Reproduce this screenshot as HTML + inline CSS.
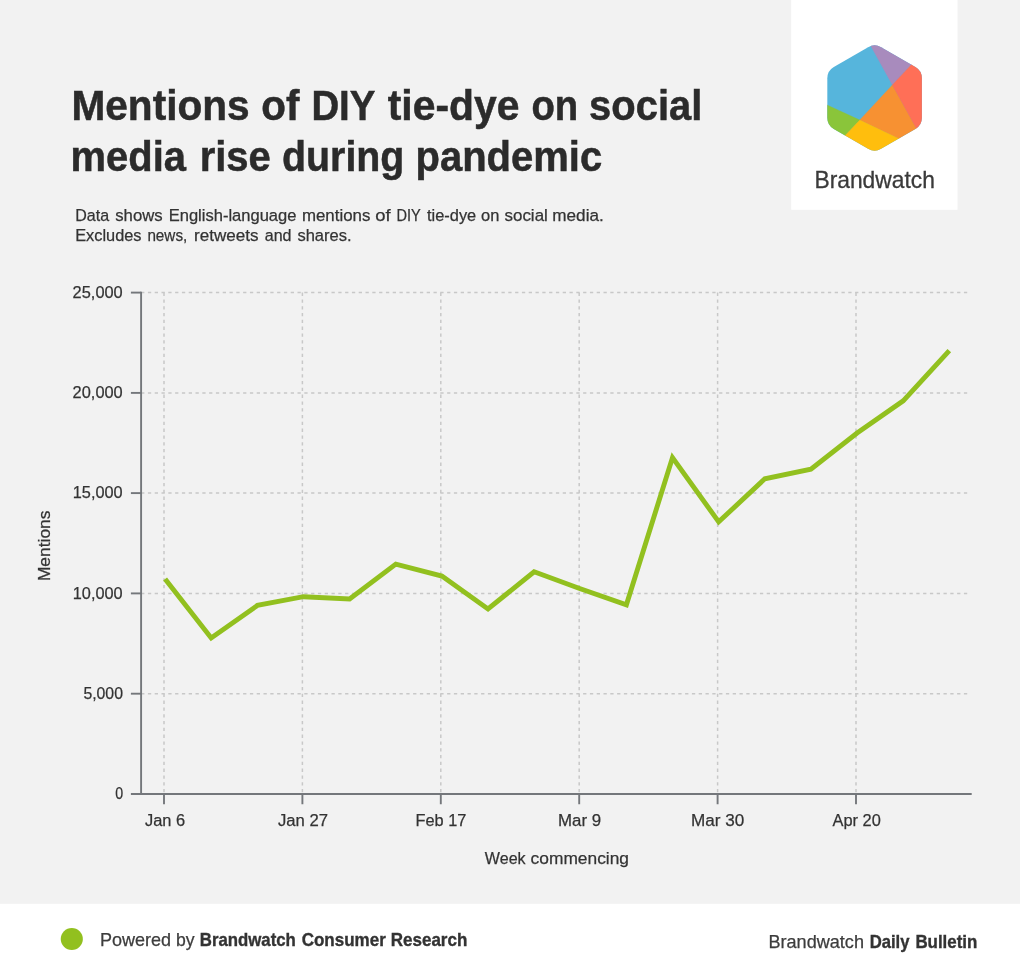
<!DOCTYPE html>
<html lang="en">
<head>
<meta charset="utf-8">
<title>Mentions of DIY tie-dye on social media rise during pandemic</title>
<style>
html,body{margin:0;padding:0;background:#f2f2f2;}
body{width:1020px;height:977px;overflow:hidden;font-family:"Liberation Sans", sans-serif;}
svg{display:block;}
</style>
</head>
<body>
<svg width="1020" height="977" viewBox="0 0 1020 977" font-family='"Liberation Sans", sans-serif'>
<rect width="1020" height="977" fill="#f2f2f2"/>
<rect x="0" y="903.8" width="1020" height="74" fill="#ffffff"/>
<rect x="791.2" y="0" width="166.3" height="209.8" fill="#ffffff"/>
<clipPath id="hex"><path d="M868.10 47.15 Q874.60 43.40 881.10 47.15 L915.39 66.95 Q921.88 70.70 921.88 78.20 L921.88 117.80 Q921.88 125.30 915.39 129.05 L881.10 148.85 Q874.60 152.60 868.10 148.85 L833.81 129.05 Q827.32 125.30 827.32 117.80 L827.32 78.20 Q827.32 70.70 833.81 66.95 Z"/></clipPath>
<g clip-path="url(#hex)">
<rect x="820" y="40" width="110" height="116" fill="#56b5dc"/>
<polygon points="869.40,43.30 874.60,30.00 930.00,30.00 913.90,62.10 892.40,84.90" fill="#a88bbd" stroke="#a88bbd" stroke-width="0.4"/>
<polygon points="892.40,84.90 917.60,130.40 902.20,140.25 859.80,120.10" fill="#f79132" stroke="#f79132" stroke-width="0.4"/>
<polygon points="913.90,62.10 935.00,40.00 935.00,160.00 917.60,130.40 892.40,84.90" fill="#ff6f57" stroke="#ff6f57" stroke-width="0.4"/>
<polygon points="823.40,103.25 859.80,120.10 842.80,137.90 835.00,165.00 815.00,140.00" fill="#8ac53a" stroke="#8ac53a" stroke-width="0.4"/>
<polygon points="859.80,120.10 902.20,140.25 910.00,160.00 874.60,165.00 842.80,137.90" fill="#ffbe0d" stroke="#ffbe0d" stroke-width="0.4"/>
</g>
<g stroke="#c8c8c8" stroke-width="1.5" stroke-dasharray="3.3 3.5" fill="none">
<line x1="141.1" y1="693.7" x2="968.0" y2="693.7"/>
<line x1="141.1" y1="593.4" x2="968.0" y2="593.4"/>
<line x1="141.1" y1="493.1" x2="968.0" y2="493.1"/>
<line x1="141.1" y1="392.9" x2="968.0" y2="392.9"/>
<line x1="141.1" y1="292.6" x2="968.0" y2="292.6"/>
<line x1="164.0" y1="292.6" x2="164.0" y2="793.95"/>
<line x1="302.4" y1="292.6" x2="302.4" y2="793.95"/>
<line x1="440.8" y1="292.6" x2="440.8" y2="793.95"/>
<line x1="579.2" y1="292.6" x2="579.2" y2="793.95"/>
<line x1="717.6" y1="292.6" x2="717.6" y2="793.95"/>
<line x1="856.0" y1="292.6" x2="856.0" y2="793.95"/>
</g>
<g stroke="#74777b" stroke-width="1.9" fill="none">
<line x1="141.1" y1="291.7" x2="141.1" y2="794.90"/>
<line x1="130.9" y1="793.95" x2="971.7" y2="793.95"/>
<line x1="130.9" y1="693.7" x2="141.1" y2="693.7"/>
<line x1="130.9" y1="593.4" x2="141.1" y2="593.4"/>
<line x1="130.9" y1="493.1" x2="141.1" y2="493.1"/>
<line x1="130.9" y1="392.9" x2="141.1" y2="392.9"/>
<line x1="130.9" y1="292.6" x2="141.1" y2="292.6"/>
<line x1="164.0" y1="793.95" x2="164.0" y2="804.25"/>
<line x1="302.4" y1="793.95" x2="302.4" y2="804.25"/>
<line x1="440.8" y1="793.95" x2="440.8" y2="804.25"/>
<line x1="579.2" y1="793.95" x2="579.2" y2="804.25"/>
<line x1="717.6" y1="793.95" x2="717.6" y2="804.25"/>
<line x1="856.0" y1="793.95" x2="856.0" y2="804.25"/>
</g>
<text y="120.4" font-size="41.8" font-weight="bold" fill="#2b2b2b" stroke="#2b2b2b" stroke-width="0.5"><tspan x="71.41" textLength="178.26" lengthAdjust="spacingAndGlyphs">Mentions</tspan> <tspan x="261.25" textLength="38.06" lengthAdjust="spacingAndGlyphs">of</tspan> <tspan x="311.38" textLength="63.36" lengthAdjust="spacingAndGlyphs">DIY</tspan> <tspan x="387.70" textLength="131.75" lengthAdjust="spacingAndGlyphs">tie-dye</tspan> <tspan x="531.46" textLength="46.72" lengthAdjust="spacingAndGlyphs">on</tspan> <tspan x="589.12" textLength="113.23" lengthAdjust="spacingAndGlyphs">social</tspan></text>
<text y="171.3" font-size="41.8" font-weight="bold" fill="#2b2b2b" stroke="#2b2b2b" stroke-width="0.5"><tspan x="70.59" textLength="115.36" lengthAdjust="spacingAndGlyphs">media</tspan> <tspan x="199.67" textLength="71.20" lengthAdjust="spacingAndGlyphs">rise</tspan> <tspan x="282.07" textLength="122.33" lengthAdjust="spacingAndGlyphs">during</tspan> <tspan x="415.52" textLength="186.66" lengthAdjust="spacingAndGlyphs">pandemic</tspan></text>
<text y="220.8" font-size="16.7" fill="#333333" stroke="#333333" stroke-width="0.25"><tspan x="75.22" textLength="33.84" lengthAdjust="spacingAndGlyphs">Data</tspan> <tspan x="115.25" textLength="47.41" lengthAdjust="spacingAndGlyphs">shows</tspan> <tspan x="168.68" textLength="127.77" lengthAdjust="spacingAndGlyphs">English-language</tspan> <tspan x="301.94" textLength="68.37" lengthAdjust="spacingAndGlyphs">mentions</tspan> <tspan x="375.16" textLength="15.36" lengthAdjust="spacingAndGlyphs">of</tspan> <tspan x="396.49" textLength="24.03" lengthAdjust="spacingAndGlyphs">DIY</tspan> <tspan x="427.00" textLength="49.25" lengthAdjust="spacingAndGlyphs">tie-dye</tspan> <tspan x="481.04" textLength="18.31" lengthAdjust="spacingAndGlyphs">on</tspan> <tspan x="504.54" textLength="43.28" lengthAdjust="spacingAndGlyphs">social</tspan> <tspan x="552.27" textLength="51.48" lengthAdjust="spacingAndGlyphs">media.</tspan></text>
<text y="241.3" font-size="16.7" fill="#333333" stroke="#333333" stroke-width="0.25"><tspan x="75.18" textLength="66.33" lengthAdjust="spacingAndGlyphs">Excludes</tspan> <tspan x="147.38" textLength="39.88" lengthAdjust="spacingAndGlyphs">news,</tspan> <tspan x="194.09" textLength="64.42" lengthAdjust="spacingAndGlyphs">retweets</tspan> <tspan x="264.74" textLength="26.76" lengthAdjust="spacingAndGlyphs">and</tspan> <tspan x="297.38" textLength="54.12" lengthAdjust="spacingAndGlyphs">shares.</tspan></text>
<text y="187.6" font-size="23.2" fill="#3a3a3a" stroke="#3a3a3a" stroke-width="0.3"><tspan x="814.48" textLength="120.37" lengthAdjust="spacingAndGlyphs">Brandwatch</tspan></text>
<text y="864.3" font-size="17.3" fill="#333333" stroke="#333333" stroke-width="0.25"><tspan x="484.86" textLength="40.74" lengthAdjust="spacingAndGlyphs">Week</tspan> <tspan x="530.63" textLength="98.34" lengthAdjust="spacingAndGlyphs">commencing</tspan></text>
<text y="946" font-size="17.7" fill="#3d3d3d" stroke="#3d3d3d" stroke-width="0.25"><tspan x="100.00" textLength="71.11" lengthAdjust="spacingAndGlyphs">Powered</tspan> <tspan x="176.07" textLength="18.59" lengthAdjust="spacingAndGlyphs">by</tspan></text>
<text y="946" font-size="17.7" font-weight="bold" fill="#333333" stroke="#333333" stroke-width="0.35"><tspan x="199.75" textLength="96.12" lengthAdjust="spacingAndGlyphs">Brandwatch</tspan> <tspan x="301.68" textLength="84.12" lengthAdjust="spacingAndGlyphs">Consumer</tspan> <tspan x="390.73" textLength="76.59" lengthAdjust="spacingAndGlyphs">Research</tspan></text>
<text y="948" font-size="17.7" fill="#3d3d3d" stroke="#3d3d3d" stroke-width="0.25"><tspan x="768.48" textLength="95.51" lengthAdjust="spacingAndGlyphs">Brandwatch</tspan></text>
<text y="948" font-size="17.7" font-weight="bold" fill="#333333" stroke="#333333" stroke-width="0.35"><tspan x="869.70" textLength="39.84" lengthAdjust="spacingAndGlyphs">Daily</tspan> <tspan x="915.38" textLength="62.01" lengthAdjust="spacingAndGlyphs">Bulletin</tspan></text>
<text y="799.2" font-size="17.4" fill="#333333" stroke="#333333" stroke-width="0.25"><tspan x="115.37" textLength="7.91" lengthAdjust="spacingAndGlyphs">0</tspan></text>
<text y="698.93" font-size="17.4" fill="#333333" stroke="#333333" stroke-width="0.25"><tspan x="83.39" textLength="39.57" lengthAdjust="spacingAndGlyphs">5,000</tspan></text>
<text y="598.66" font-size="17.4" fill="#333333" stroke="#333333" stroke-width="0.25"><tspan x="72.78" textLength="49.86" lengthAdjust="spacingAndGlyphs">10,000</tspan></text>
<text y="498.39" font-size="17.4" fill="#333333" stroke="#333333" stroke-width="0.25"><tspan x="72.78" textLength="49.86" lengthAdjust="spacingAndGlyphs">15,000</tspan></text>
<text y="398.12" font-size="17.4" fill="#333333" stroke="#333333" stroke-width="0.25"><tspan x="72.61" textLength="50.12" lengthAdjust="spacingAndGlyphs">20,000</tspan></text>
<text y="297.85" font-size="17.4" fill="#333333" stroke="#333333" stroke-width="0.25"><tspan x="72.61" textLength="50.12" lengthAdjust="spacingAndGlyphs">25,000</tspan></text>
<text y="825.6" font-size="17.3" fill="#333333" stroke="#333333" stroke-width="0.25"><tspan x="144.94" textLength="40.16" lengthAdjust="spacingAndGlyphs">Jan 6</tspan></text>
<text y="825.6" font-size="17.3" fill="#333333" stroke="#333333" stroke-width="0.25"><tspan x="277.94" textLength="50.10" lengthAdjust="spacingAndGlyphs">Jan 27</tspan></text>
<text y="825.6" font-size="17.3" fill="#333333" stroke="#333333" stroke-width="0.25"><tspan x="415.48" textLength="50.83" lengthAdjust="spacingAndGlyphs">Feb 17</tspan></text>
<text y="825.6" font-size="17.3" fill="#333333" stroke="#333333" stroke-width="0.25"><tspan x="558.02" textLength="43.09" lengthAdjust="spacingAndGlyphs">Mar 9</tspan></text>
<text y="825.6" font-size="17.3" fill="#333333" stroke="#333333" stroke-width="0.25"><tspan x="691.03" textLength="53.27" lengthAdjust="spacingAndGlyphs">Mar 30</tspan></text>
<text y="825.6" font-size="17.3" fill="#333333" stroke="#333333" stroke-width="0.25"><tspan x="832.55" textLength="48.25" lengthAdjust="spacingAndGlyphs">Apr 20</tspan></text>
<text transform="translate(49.60 581.10) rotate(-90)" font-size="17.2" fill="#333333" stroke="#333333" stroke-width="0.25" textLength="70.50" lengthAdjust="spacingAndGlyphs">Mentions</text>
<polyline points="165.1,578.9 211.2,638.0 257.4,605.4 303.5,596.7 349.6,599.0 395.8,564.1 441.9,576.1 488.0,609.0 534.1,571.8 580.3,588.7 626.4,604.8 672.5,457.6 718.7,521.9 764.8,478.8 810.9,469.1 857.1,433.0 903.2,400.8 949.3,350.7" fill="none" stroke="#92c01f" stroke-width="4.9" stroke-linejoin="miter" stroke-miterlimit="10"/>
<circle cx="71.8" cy="939.05" r="11.05" fill="#92c01f"/>
</svg>
</body>
</html>
